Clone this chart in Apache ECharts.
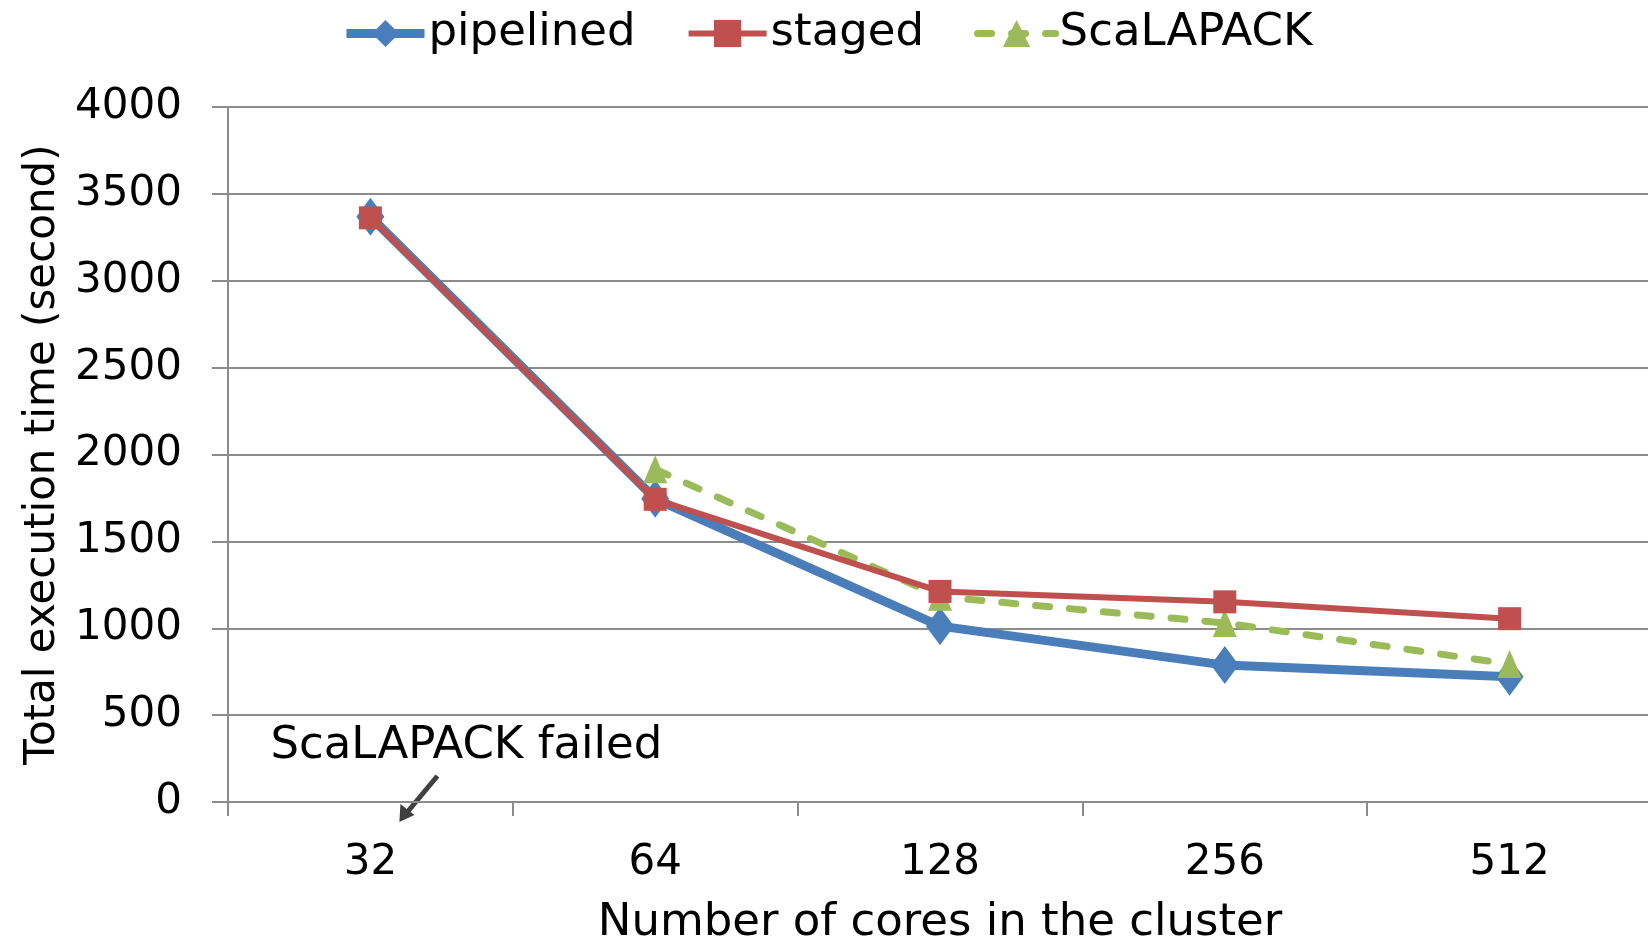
<!DOCTYPE html>
<html>
<head>
<meta charset="utf-8">
<script src="https://cdn.jsdelivr.net/npm/echarts@6/dist/echarts.min.js"></script>
<style>
html,body{margin:0;padding:0;background:#fff;}
#chart{width:1648px;height:939px;}
</style>
</head>
<body>
<div id="chart"></div>
<script>
const categories = ['32', '64', '128', '256', '512'];
const pipelined = [3368, 1745, 1012, 788, 721];
const staged = [3362, 1742, 1212, 1152, 1055];
const scalapack = [null, 1915, 1182, 1030, 794];
const yTicks = [0, 500, 1000, 1500, 2000, 2500, 3000, 3500, 4000];
const annotationText = 'ScaLAPACK failed';

const FONT = 'DejaVu Sans';
const FS_TEXT = 45;
const FS_NUM = 42;
const chart = echarts.init(document.getElementById('chart'));

const option = {
  animation: false,
  backgroundColor: '#ffffff',
  textStyle: { fontFamily: FONT },
  legend: {
    top: 6,
    left: 337,
    itemWidth: 78,
    itemHeight: 34,
    itemGap: 50,
    textStyle: { fontSize: FS_TEXT, color: '#000', fontFamily: FONT, padding: [0, 0, 0, -1] },
    data: [
      { name: 'pipelined', lineStyle: { width: 9 } },
      { name: 'staged', lineStyle: { width: 6 } },
      { name: 'ScaLAPACK', lineStyle: { width: 7 } }
    ]
  },
  grid: { left: 228, right: -4, top: 107, bottom: 137, containLabel: false, outerBoundsMode: 'none' },
  xAxis: {
    type: 'category',
    data: categories,
    boundaryGap: true,
    name: 'Number of cores in the cluster',
    nameLocation: 'middle',
    nameGap: 99,
    nameTextStyle: { fontSize: FS_TEXT, color: '#000', fontFamily: FONT },
    axisLine: { lineStyle: { color: '#8c8c8c', width: 2 } },
    axisTick: { show: true, length: 14, lineStyle: { color: '#8c8c8c', width: 2 } },
    axisLabel: { fontSize: FS_NUM, color: '#000', margin: 40, fontFamily: FONT }
  },
  yAxis: {
    type: 'value',
    min: yTicks[0],
    max: yTicks[yTicks.length - 1],
    interval: yTicks[1] - yTicks[0],
    name: 'Total execution time (second)',
    nameLocation: 'middle',
    nameGap: 162,
    nameTextStyle: { fontSize: 42, color: '#000', fontFamily: FONT },
    axisLine: { show: true, lineStyle: { color: '#8c8c8c', width: 2 } },
    axisTick: { show: true, length: 16, lineStyle: { color: '#8c8c8c', width: 2 } },
    splitLine: { lineStyle: { color: '#8c8c8c', width: 2 } },
    axisLabel: { fontSize: FS_NUM, color: '#000', margin: 46, fontFamily: FONT, formatter: function (v) { return String(v); } }
  },
  series: [
    {
      name: 'pipelined',
      type: 'line',
      data: pipelined,
      symbol: 'diamond',
      symbolSize: [28, 38],
      itemStyle: { color: '#4a7ebb' },
      lineStyle: { color: '#4a7ebb', width: 9 },
      z: 2
    },
    {
      name: 'staged',
      type: 'line',
      data: staged,
      symbol: 'rect',
      symbolSize: 23,
      itemStyle: { color: '#c0504d' },
      lineStyle: { color: '#c0504d', width: 6 },
      z: 4
    },
    {
      name: 'ScaLAPACK',
      type: 'line',
      data: scalapack,
      symbol: 'triangle',
      symbolSize: [24, 28],
      itemStyle: { color: '#9bbb59' },
      lineStyle: { color: '#9bbb59', width: 7, type: [14, 20], cap: 'round' },
      z: 3
    }
  ]
};
chart.setOption(option);

// annotation placed relative to the first category via the axis scales
const p = chart.convertToPixel({ xAxisIndex: 0, yAxisIndex: 0 }, [0, 0]);
const ax = p[0], ay = p[1];
chart.setOption({
  graphic: [
    {
      type: 'text',
      left: ax - 100,
      top: ay - 78,
      style: { text: annotationText, fontSize: FS_TEXT, fill: '#000', fontFamily: FONT }
    },
    {
      type: 'line',
      shape: { x1: ax + 67, y1: ay - 26, x2: ax + 37, y2: ay + 10 },
      style: { stroke: '#404040', lineWidth: 5 }
    },
    {
      type: 'polygon',
      shape: { points: [[ax + 29, ay + 20], [ax + 30, ay + 2], [ax + 44, ay + 13]] },
      style: { fill: '#404040' }
    }
  ]
});
</script>
</body>
</html>
